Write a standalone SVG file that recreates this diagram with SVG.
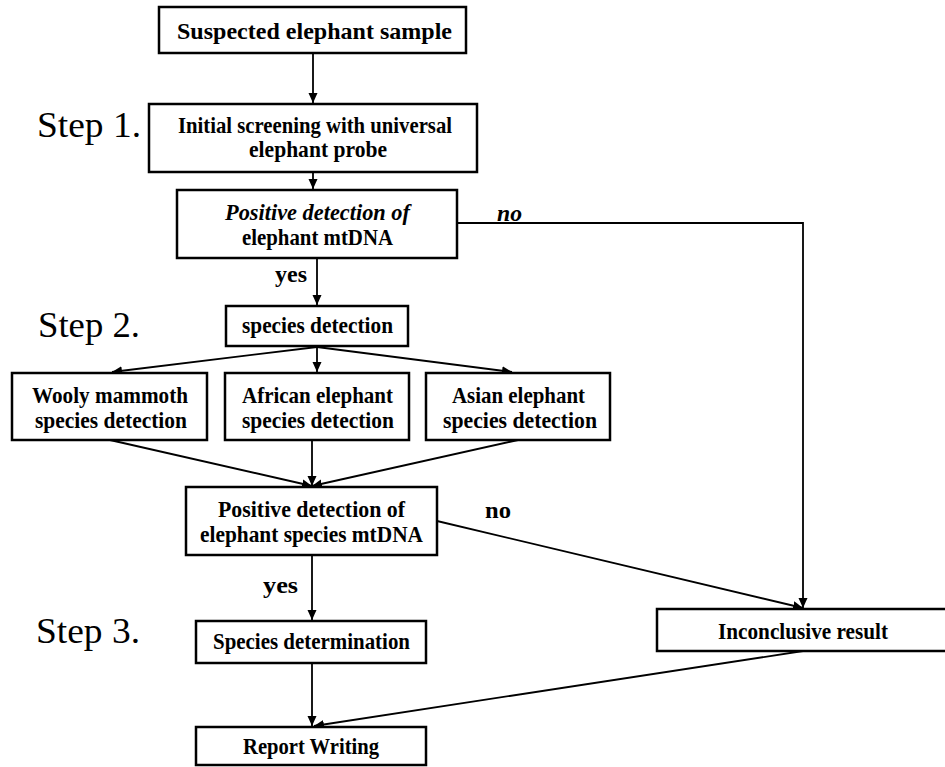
<svg xmlns="http://www.w3.org/2000/svg" width="945" height="767" viewBox="0 0 945 767">
<style>
.box{fill:#fff;stroke:#000;stroke-width:2.5}
.t{font-family:"Liberation Serif","Times New Roman",serif;font-weight:bold;font-size:22.5px;fill:#000;text-anchor:middle}
.i{font-style:italic}
.step{font-family:"Liberation Serif","Times New Roman",serif;font-size:36px;fill:#000}
.c{fill:none;stroke:#000;stroke-width:1.8}
</style>
<defs>
<marker id="ah" markerUnits="userSpaceOnUse" markerWidth="12" markerHeight="10" refX="10" refY="4.5" orient="auto">
<path d="M0,0 L10,4.5 L0,9 z" fill="#000"/>
</marker>
</defs>
<rect width="945" height="767" fill="#fff"/>

<g id="step-labels">
<text class="step" x="37" y="137" textLength="104" lengthAdjust="spacingAndGlyphs">Step 1.</text>
<text class="step" x="38" y="337" textLength="102" lengthAdjust="spacingAndGlyphs">Step 2.</text>
<text class="step" x="36" y="643" textLength="104" lengthAdjust="spacingAndGlyphs">Step 3.</text>
</g>

<g id="connectors">
<line class="c" x1="313" y1="53" x2="313" y2="103" marker-end="url(#ah)"/>
<line class="c" x1="313" y1="172" x2="313" y2="189" marker-end="url(#ah)"/>
<line class="c" x1="317" y1="258" x2="317" y2="305" marker-end="url(#ah)"/>
<line class="c" x1="317" y1="347" x2="112" y2="372" marker-end="url(#ah)"/>
<line class="c" x1="317" y1="347" x2="317" y2="372" marker-end="url(#ah)"/>
<line class="c" x1="317" y1="347" x2="512" y2="372" marker-end="url(#ah)"/>
<line class="c" x1="110" y1="440" x2="312" y2="486" marker-end="url(#ah)"/>
<line class="c" x1="312" y1="440" x2="312" y2="486" marker-end="url(#ah)"/>
<line class="c" x1="518" y1="440" x2="312" y2="486" marker-end="url(#ah)"/>
<polyline class="c" points="457,223 803,223 803,608" marker-end="url(#ah)"/>
<line class="c" x1="437" y1="521" x2="803" y2="608" marker-end="url(#ah)"/>
<line class="c" x1="312" y1="555" x2="312" y2="620" marker-end="url(#ah)"/>
<line class="c" x1="312" y1="663" x2="312" y2="726" marker-end="url(#ah)"/>
<line class="c" x1="803" y1="651" x2="314" y2="726" marker-end="url(#ah)"/>
<text class="t i" x="509.5" y="221" textLength="25" lengthAdjust="spacingAndGlyphs">no</text>
<text class="t" x="291" y="282" textLength="32" lengthAdjust="spacingAndGlyphs">yes</text>
<text class="t" x="498" y="518" textLength="26" lengthAdjust="spacingAndGlyphs">no</text>
<text class="t" x="280.5" y="593" textLength="35" lengthAdjust="spacingAndGlyphs">yes</text>
</g>

<g id="n-sample">
<rect class="box" x="159" y="7" width="307" height="46"/>
<text class="t" x="314.5" y="39" textLength="275" lengthAdjust="spacingAndGlyphs">Suspected elephant sample</text>
</g>

<g id="n-screening">
<rect class="box" x="149" y="104" width="328" height="68"/>
<text class="t" x="315" y="133" textLength="274" lengthAdjust="spacingAndGlyphs">Initial screening with universal</text>
<text class="t" x="318" y="157" textLength="138" lengthAdjust="spacingAndGlyphs">elephant probe</text>
</g>

<g id="n-positive1">
<rect class="box" x="177" y="190" width="280" height="68"/>
<text class="t i" x="317.5" y="220" textLength="185" lengthAdjust="spacingAndGlyphs">Positive detection of</text>
<text class="t" x="317.5" y="245" textLength="151" lengthAdjust="spacingAndGlyphs">elephant mtDNA</text>
</g>

<g id="n-species">
<rect class="box" x="226" y="306" width="182" height="40"/>
<text class="t" x="317.5" y="333" textLength="151" lengthAdjust="spacingAndGlyphs">species detection</text>
</g>

<g id="n-wooly">
<rect class="box" x="12" y="373" width="195" height="67"/>
<text class="t" x="110" y="403" textLength="156" lengthAdjust="spacingAndGlyphs">Wooly mammoth</text>
<text class="t" x="111" y="428" textLength="152" lengthAdjust="spacingAndGlyphs">species detection</text>
</g>

<g id="n-african">
<rect class="box" x="225" y="373" width="184" height="67"/>
<text class="t" x="317.5" y="403" textLength="151" lengthAdjust="spacingAndGlyphs">African elephant</text>
<text class="t" x="318" y="428" textLength="152" lengthAdjust="spacingAndGlyphs">species detection</text>
</g>

<g id="n-asian">
<rect class="box" x="426" y="373" width="184" height="67"/>
<text class="t" x="518.5" y="403" textLength="133" lengthAdjust="spacingAndGlyphs">Asian elephant</text>
<text class="t" x="520" y="428" textLength="154" lengthAdjust="spacingAndGlyphs">species detection</text>
</g>

<g id="n-positive2">
<rect class="box" x="186" y="487" width="251" height="68"/>
<text class="t" x="311.5" y="517" textLength="187" lengthAdjust="spacingAndGlyphs">Positive detection of</text>
<text class="t" x="311.5" y="542" textLength="223" lengthAdjust="spacingAndGlyphs">elephant species mtDNA</text>
</g>

<g id="n-determination">
<rect class="box" x="196" y="621" width="230" height="42"/>
<text class="t" x="311.5" y="649" textLength="197" lengthAdjust="spacingAndGlyphs">Species determination</text>
</g>

<g id="n-inconclusive">
<rect class="box" x="657" y="609" width="293" height="42"/>
<text class="t" x="803" y="639" textLength="170" lengthAdjust="spacingAndGlyphs">Inconclusive result</text>
</g>

<g id="n-report">
<rect class="box" x="196" y="727" width="230" height="38"/>
<text class="t" x="311" y="754" textLength="136" lengthAdjust="spacingAndGlyphs">Report Writing</text>
</g>
</svg>
